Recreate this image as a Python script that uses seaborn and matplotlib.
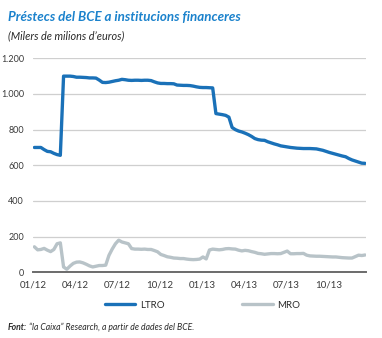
import matplotlib
matplotlib.use("Agg")
import matplotlib.pyplot as plt
import seaborn as sns
import pandas as pd
import numpy as np
from matplotlib.lines import Line2D

# ---- data (weekly, from 4 Jan 2012) ----
start_date = "2012-01-04"
ltro = [700, 700, 700, 688, 678, 676, 667, 660, 656,
        1100, 1100, 1100, 1098, 1094, 1094, 1093, 1092, 1090, 1090, 1089,
        1078, 1065, 1064, 1066, 1070, 1074, 1077, 1082, 1080, 1077,
        1076, 1077, 1077, 1076, 1077, 1077, 1075, 1068, 1062,
        1059, 1059, 1058, 1058, 1057, 1050, 1049, 1048, 1048, 1047, 1044,
        1040, 1037, 1036, 1036, 1035, 1034,
        890, 887, 884, 880, 870, 812, 800, 792, 787, 780, 772, 762, 750,
        744, 741, 740, 732, 726, 720, 715, 709, 706, 703, 700, 698, 696,
        695, 694, 694, 694, 693, 692, 688, 684, 678, 672, 667, 662, 657,
        652, 648, 638, 630, 624, 618, 612, 611]
mro = [143, 126, 128, 134, 124, 116, 128, 160, 165,
       30, 17, 35, 50, 57, 58, 53, 45, 36, 30, 34,
       38, 38, 40, 95, 130, 160, 180, 170, 165, 160,
       133, 130, 130, 129, 130, 128, 128, 122, 115,
       100, 94, 87, 84, 80, 79, 77, 77, 74, 72, 71,
       72, 74, 86, 75, 125, 130,
       128, 126, 128, 132, 133, 131, 130, 124, 120, 123, 121, 116, 112,
       106, 104, 101, 103, 105, 105, 104, 105, 112, 119, 104, 104, 105,
       105, 106, 96, 92, 91, 90, 90, 89, 88, 87, 86, 86, 84,
       82, 81, 80, 80, 88, 96, 94, 97]
series_names = ["LTRO", "MRO"]
yticks = [0, 200, 400, 600, 800, 1000, 1200]
ytick_labels = ["0", "200", "400", "600", "800", "1.000", "1.200"]
xtick_dates = ["2012-01-01", "2012-04-01", "2012-07-01", "2012-10-01",
               "2013-01-01", "2013-04-01", "2013-07-01", "2013-10-01"]
xtick_labels = ["01/12", "04/12", "07/12", "10/12", "01/13", "04/13", "07/13", "10/13"]

title = "Préstecs del BCE a institucions financeres"
subtitle = "(Milers de milions d\u2019euros)"
source_bold = "Font:"
source_text = "\u201cla Caixa\u201d Research, a partir de dades del BCE."

dates = pd.date_range(start_date, periods=len(ltro), freq="7D")
df = pd.DataFrame({
    "date": np.concatenate([dates, dates]),
    "value": ltro + mro,
    "serie": [series_names[0]] * len(ltro) + [series_names[1]] * len(mro),
})

sns.set_theme(style="white")
FONT = ["Lato", "DejaVu Sans"]
plt.rcParams["font.family"] = FONT

fig = plt.figure(figsize=(3.82, 3.38), dpi=100)
ax = fig.add_axes([0.0864, 0.1944, 0.958 - 0.0864, 0.8275 - 0.1944])

palette = {"LTRO": "#1a71b8", "MRO": "#b8c3c8"}
sns.lineplot(data=df, x="date", y="value", hue="serie", palette=palette,
             linewidth=2.4, ax=ax, legend=False, zorder=3)

ax.set_ylim(0, 1200)
ax.set_xlim(pd.Timestamp("2012-01-01"), pd.Timestamp("2013-12-20"))
ax.set_yticks(yticks)
ax.set_yticklabels(ytick_labels)
ax.set_xticks([pd.Timestamp(d) for d in xtick_dates])
ax.set_xticklabels(xtick_labels)
ax.set_xlabel("")
ax.set_ylabel("")

ax.yaxis.grid(True, color="#cfcfcf", linewidth=0.9)
ax.set_axisbelow(True)
for s in ["left", "right", "top"]:
    ax.spines[s].set_visible(False)
ax.spines["bottom"].set_color("#6b6b6b")
ax.spines["bottom"].set_linewidth(1.4)
ax.spines["bottom"].set_zorder(4)

ax.tick_params(axis="y", length=0, pad=6.5, labelsize=6.5, labelcolor="#3a3a3a")
ax.tick_params(axis="x", direction="in", length=3, width=1, color="#6b6b6b",
               pad=6, labelsize=7, labelcolor="#3a3a3a")

fig.text(8 / 382, 1 - 17 / 338, title, fontsize=9.6, fontweight="bold",
         fontstyle="italic", color="#1b82cc", va="center", ha="left")
fig.text(8 / 382, 1 - 36 / 338, subtitle, fontsize=7.8, fontstyle="italic",
         color="#2a2a2a", va="center", ha="left")

# legend
handles = [Line2D([0], [0], color=palette[n], linewidth=2.4) for n in series_names]
leg = fig.legend(handles, series_names, loc="center left",
                 bbox_to_anchor=(105 / 382, 1 - 305 / 338),
                 ncol=2, frameon=False, fontsize=7, handlelength=3.1,
                 columnspacing=8.0, handletextpad=0.5, borderpad=0, borderaxespad=0)
for t in leg.get_texts():
    t.set_color("#2a2a2a")

t1 = fig.text(8 / 382, 1 - 327 / 338, source_bold, fontsize=6.2, fontweight="bold",
              fontstyle="italic", color="#2a2a2a", va="center", ha="left")
fig.canvas.draw()
bb = t1.get_window_extent()
fig.text((bb.x1 + 2) / 382, 1 - 327 / 338, source_text,
         fontsize=6.2, fontstyle="italic", color="#2a2a2a", va="center", ha="left")

fig.savefig("out.png", dpi=100)
